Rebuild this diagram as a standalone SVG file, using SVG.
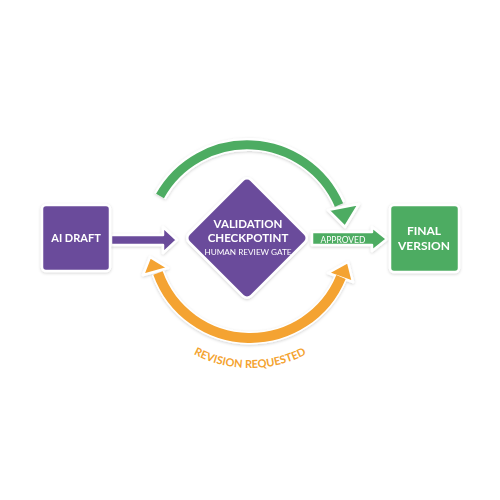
<svg xmlns="http://www.w3.org/2000/svg" width="500" height="500" viewBox="0 0 500 500">
<defs>
<filter id="sh" x="-20%" y="-20%" width="140%" height="140%">
<feDropShadow dx="0" dy="1" stdDeviation="1.5" flood-color="#000" flood-opacity="0.18"/>
</filter>
<path id="revArc" d="M 130 268 A 122 122 0 0 0 370 268"/>
</defs>
<style>
.purple{fill:#6a4b9b}
.green{fill:#4eac62}
.orange{fill:#f4a330}
.outl{stroke:#fff;stroke-width:2.5;stroke-linejoin:round}
.t{font-family:Lato,"Open Sans","DejaVu Sans",sans-serif;font-weight:bold;fill:#fff;text-anchor:middle}
.n{font-weight:normal}
.arcg{fill:none;stroke:#4eac62;stroke-width:9}
.arco{fill:none;stroke:#f4a330;stroke-width:10}
.arcw{fill:none;stroke:#fff;stroke-width:13}
</style>
<rect width="500" height="500" fill="#fff"/>
<g id="connectors">
<g id="approved-loop" filter="url(#sh)">
<path class="arcw" d="M 160 196 A 100 100 0 0 1 339 204"/>
<polygon class="green outl" points="345,227 328,210 359,204"/>
<path class="arcg" d="M 160 196 A 100 100 0 0 1 339 205"/>
</g>
<g id="revision-loop" filter="url(#sh)">
<path class="arcw" d="M 158 273 A 98 98 0 0 0 341 277"/>
<polygon class="orange outl" points="150,257 143,275 168,268"/>
<polygon class="orange outl" points="348,262 328,273 353,282"/>
<path class="arco" d="M 158 273 A 98 98 0 0 0 341 277"/>
</g>
<g id="draft-arrow" filter="url(#sh)">
<polygon class="purple outl" points="111,235 163,235 163,227 177,240 163,253 163,245 111,245"/>
</g>
<g id="approved-arrow" filter="url(#sh)">
<polygon class="green outl" points="312,232 372,232 372,227 387,239 372,251 372,245 312,245"/>
<text class="t n" x="343" y="242.5" font-size="8.5">APPROVED</text>
</g>
<text font-family="Lato,'Open Sans','DejaVu Sans',sans-serif" font-size="11" font-weight="bold" fill="#f4a330"><textPath href="#revArc" startOffset="50%" text-anchor="middle">REVISION REQUESTED</textPath></text>
</g>
<g id="ai-draft" filter="url(#sh)">
<rect class="purple outl" x="42" y="205" width="68" height="66" rx="4"/>
<text class="t" x="76" y="242" font-size="11">AI DRAFT</text>
</g>
<g id="validation" filter="url(#sh)">
<rect class="purple outl" x="-44" y="-44" width="88" height="88" rx="6" transform="translate(247,238) rotate(45)"/>
<text class="t" x="248" y="228" font-size="11.5">VALIDATION</text>
<text class="t" x="248" y="242" font-size="11.5">CHECKPOTINT</text>
<text class="t n" x="248" y="255" font-size="8.2">HUMAN REVIEW GATE</text>
</g>
<g id="final-version" filter="url(#sh)">
<rect class="green outl" x="390" y="205" width="69" height="67" rx="4"/>
<text class="t" x="424" y="235" font-size="12">FINAL</text>
<text class="t" x="424" y="250" font-size="12">VERSION</text>
</g>
</svg>
